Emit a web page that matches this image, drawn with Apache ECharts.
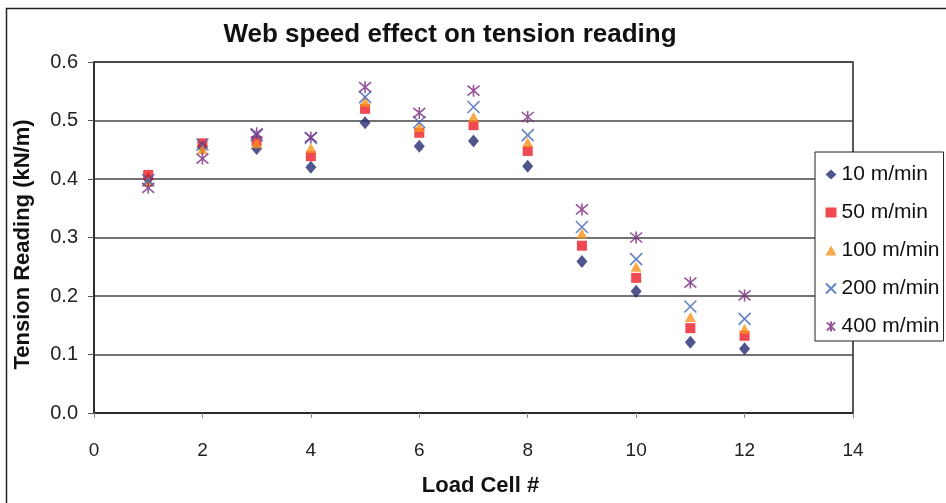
<!DOCTYPE html>
<html>
<head>
<meta charset="utf-8">
<script src="https://cdn.jsdelivr.net/npm/echarts@6/dist/echarts.min.js"></script>
<style>html,body{margin:0;padding:0;background:#fff}#c{width:946px;height:503px}</style>
</head>
<body>
<div id="c"></div>
<script>
const loadCells = [1, 2, 3, 4, 5, 6, 7, 8, 9, 10, 11, 12];
const speed10  = [0.400, 0.455, 0.452, 0.420, 0.496, 0.456, 0.465, 0.422, 0.259, 0.208, 0.121, 0.110];
const speed50  = [0.407, 0.461, 0.465, 0.439, 0.520, 0.479, 0.492, 0.448, 0.286, 0.231, 0.145, 0.132];
const speed100 = [0.395, 0.451, 0.461, 0.453, 0.532, 0.489, 0.506, 0.463, 0.307, 0.250, 0.164, 0.144];
const speed200 = [0.398, 0.459, 0.475, 0.470, 0.540, 0.497, 0.523, 0.475, 0.318, 0.263, 0.182, 0.161];
const speed400 = [0.385, 0.435, 0.478, 0.471, 0.557, 0.513, 0.551, 0.506, 0.348, 0.300, 0.223, 0.201];
const seriesNames = ['10 m/min', '50 m/min', '100 m/min', '200 m/min', '400 m/min'];
const xTicks = [0, 2, 4, 6, 8, 10, 12, 14];
const yTicks = [0.0, 0.1, 0.2, 0.3, 0.4, 0.5, 0.6];

const font = 'Liberation Sans, Arial, sans-serif';
const crossPath = 'path://M0,0L10,10M10,0L0,10';
const starPath = 'path://M0,0L10,10M10,0L0,10M5,-1L5,11';

function pts(vals) { return loadCells.map((x, i) => [x, vals[i]]); }

const styles = [
  { symbol: 'diamond', size: [11, 13], item: { color: '#262a72' } },
  { symbol: 'rect', size: 10, item: { color: '#ee1c25' } },
  { symbol: 'triangle', size: [11, 10], item: { color: '#f7941d' } },
  { symbol: crossPath, size: 12, item: { color: 'transparent', borderColor: '#3f63b3', borderWidth: 1.6 } },
  { symbol: starPath, size: 12, item: { color: 'transparent', borderColor: '#7b2a80', borderWidth: 1.6 } }
];
const allVals = [speed10, speed50, speed100, speed200, speed400];

const chart = echarts.init(document.getElementById('c'), null, { renderer: 'canvas' });
chart.setOption({
  animation: false,
  backgroundColor: '#fff',
  textStyle: { fontFamily: font },
  graphic: [{
    type: 'rect', left: 4, top: 6, z: -1,
    shape: { x: 0, y: 0, width: 941, height: 500 },
    style: { fill: 'none', stroke: '#222', lineWidth: 1.5 }
  }],
  title: {
    text: 'Web speed effect on tension reading',
    left: 445, top: 17, textAlign: 'center',
    textStyle: { fontFamily: font, fontWeight: 'bold', fontSize: 26, color: '#111' }
  },
  grid: {
    left: 94, top: 62, right: 93, bottom: 90, show: true,
    borderColor: '#222', borderWidth: 1.5, backgroundColor: 'transparent'
  },
  legend: {
    orient: 'vertical', left: 815, top: 152,
    padding: [12, 4, 4, 10], itemGap: 17, itemWidth: 11, itemHeight: 10,
    borderColor: '#222', borderWidth: 1, backgroundColor: '#fff',
    textStyle: { fontFamily: font, fontSize: 21, lineHeight: 21, color: '#111' },
    data: seriesNames
  },
  xAxis: {
    type: 'value', min: 0, max: 14, interval: 2,
    name: 'Load Cell #', nameLocation: 'middle', nameGap: 62,
    nameTextStyle: { fontFamily: font, fontWeight: 'bold', fontSize: 22, color: '#111', padding: [0, 0, 0, 14] },
    axisLine: { show: true, lineStyle: { color: '#222', width: 1.5 } },
    axisTick: { show: true, length: 5, lineStyle: { color: '#888' } },
    axisLabel: { fontFamily: font, fontSize: 19, color: '#222', margin: 28,
      formatter: v => xTicks.includes(v) ? String(v) : '' },
    splitLine: { show: false }
  },
  yAxis: {
    type: 'value', min: 0, max: 0.6, interval: 0.1,
    name: 'Tension Reading (kN/m)', nameLocation: 'middle', nameGap: 60,
    nameTextStyle: { fontFamily: font, fontWeight: 'bold', fontSize: 22, color: '#111', padding: [0, 14, 0, 0] },
    axisLine: { show: true, lineStyle: { color: '#222', width: 1.5 } },
    axisTick: { show: true, length: 6, inside: false, lineStyle: { color: '#555' } },
    axisLabel: { fontFamily: font, fontSize: 20, color: '#222', margin: 16,
      formatter: v => yTicks.some(t => Math.abs(t - v) < 1e-9) ? v.toFixed(1) : '' },
    splitLine: { show: true, lineStyle: { color: '#444', width: 1.5 } }
  },
  series: seriesNames.map((name, i) => ({
    name, type: 'scatter',
    symbol: styles[i].symbol, symbolSize: styles[i].size,
    itemStyle: styles[i].item,
    emphasis: { disabled: true },
    data: pts(allVals[i]),
    z: 2 + i
  }))
});
</script>
</body>
</html>
